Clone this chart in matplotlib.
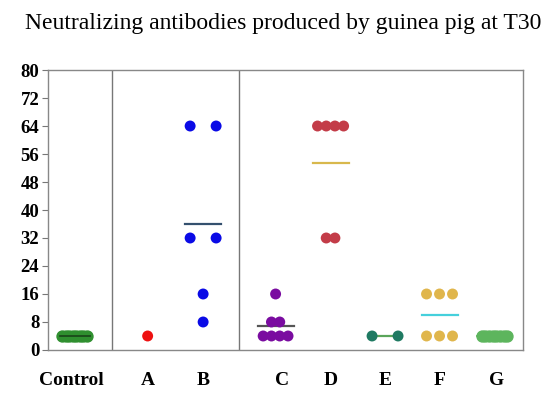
import matplotlib
matplotlib.use("Agg")
import matplotlib.pyplot as plt
import numpy as np

# ---- data ----
groups = ["Control", "A", "B", "C", "D", "E", "F", "G"]
values = {
    "Control": [4, 4, 4, 4, 4, 4, 4, 4],
    "A": [4],
    "B": [64, 64, 32, 32, 16, 8],
    "C": [16, 8, 8, 4, 4, 4, 4],
    "D": [64, 64, 64, 64, 32, 32],
    "E": [4, 4],
    "F": [16, 16, 16, 4, 4, 4],
    "G": [4, 4, 4, 4, 4, 4, 4, 4],
}
yticks = list(range(0, 81, 8))
title = "Neutralizing antibodies produced by guinea pig at T30"

# ---- layout / style ----
centers = [27, 100, 155.5, 228, 283, 337.5, 392, 447]
label_pos = [24, 100, 155.5, 234, 283, 337.5, 392, 449]
spacing = [3.5, 0, 26, 8.3, 8.7, 26, 13, 3.7]
dot_colors = ["#2f8f2f", "#ee1111", "#0a0ae6", "#7a0ca0", "#c33c48",
              "#1f7a62", "#e0b64c", "#5db55d"]
mean_colors = ["#1b4a1b", "#ee1111", "#34506e", "#555555", "#d8b84c",
               "#5aa55a", "#45d0dc", "#5db55d"]
mean_half = [15, 0, 18, 18, 18, 13, 18, 18]
serif = ["Liberation Serif", "DejaVu Serif"]

fig = plt.figure(figsize=(5.5, 3.94), dpi=100)
ax = fig.add_axes([0.0867, 0.1117, 0.9509 - 0.0867, 0.8223 - 0.1117])

for i, g in enumerate(groups):
    vals = values[g]
    levels = sorted(set(vals), reverse=True)
    xs, ys = [], []
    for lv in levels:
        n = vals.count(lv)
        offs = (np.arange(n) - (n - 1) / 2) * spacing[i]
        xs.extend(centers[i] + offs)
        ys.extend([lv] * n)
    m = np.mean(vals)
    if g in ("Control", "G"):
        ax.scatter(xs, ys, s=62, color=dot_colors[i], edgecolors=dot_colors[i], zorder=3)
        ax.plot([centers[i] - mean_half[i], centers[i] + mean_half[i]], [m, m],
                color=mean_colors[i], lw=1.3, zorder=4)
    else:
        if mean_half[i] > 0:
            ax.plot([centers[i] - mean_half[i], centers[i] + mean_half[i]], [m, m],
                    color=mean_colors[i], lw=1.6, zorder=2)
        ax.scatter(xs, ys, s=62, color=dot_colors[i], edgecolors="none", zorder=3)

for sep in [64, 191.6]:
    ax.axvline(sep, color="#777777", lw=1.0, zorder=1)

ax.set_xlim(0, 475.5)
ax.set_ylim(0, 80)
ax.set_yticks(yticks)
ax.set_yticklabels([str(t) for t in yticks], fontfamily=serif,
                   fontweight="bold", fontsize=13.5)
ax.set_xticks(label_pos)
ax.set_xticklabels(groups, fontfamily=serif, fontweight="bold", fontsize=14)
ax.tick_params(axis="x", length=0, pad=16)
ax.tick_params(axis="y", length=4, color="#777777", pad=2)
for sp in ax.spines.values():
    sp.set_color("#888888")
    sp.set_linewidth(1.0)

fig.text(0.515, 0.94, title, ha="center", va="center",
         fontfamily=serif, fontsize=17)

fig.savefig("out.png", dpi=100)
